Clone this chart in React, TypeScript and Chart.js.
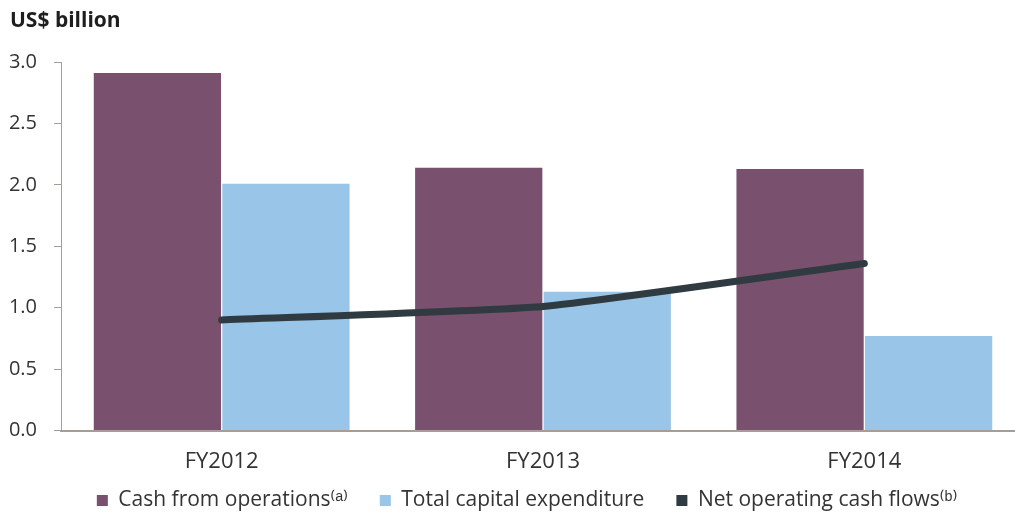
import React, { useEffect, useRef } from "react";
import { Chart, registerables } from "chart.js";

Chart.register(...registerables);

const categories = ["FY2012", "FY2013", "FY2014"];
const cashFromOperations = [2.91, 2.14, 2.13];
const totalCapex = [2.01, 1.13, 0.77];
const netOperatingCashFlows = [0.9, 1.01, 1.36];
const yTicks = [0, 0.5, 1.0, 1.5, 2.0, 2.5, 3.0];

const seriesNames = [
  "Cash from operations\u207D\u1D43\u207E",
  "Total capital expenditure",
  "Net operating cash flows\u207D\u1D47\u207E",
];

const PURPLE = "#79506d";
const BLUE = "#99c6e8";
const DARK = "#2f3b41";
const AXIS = "#a69d99";
const TEXT = "#333333";
const FONT = "'Open Sans', sans-serif";
const LEGEND_SHIFT_Y = -27;
const LEGEND_SHIFT_X = -16;

const legendShiftPlugin = {
  id: "legendShift",
  afterInit(chart: any) {
    const lg = chart.legend;
    if (!lg) return;
    const orig = lg.draw.bind(lg);
    lg.draw = (area: any) => {
      const t = lg.top;
      const l = lg.left;
      const r = lg.right;
      lg.top = t + LEGEND_SHIFT_Y;
      lg.left = l + LEGEND_SHIFT_X;
      lg.right = r + LEGEND_SHIFT_X;
      orig(area);
      lg.top = t;
      lg.left = l;
      lg.right = r;
    };
  },
};

export default function App() {
  const ref = useRef<HTMLCanvasElement | null>(null);

  useEffect(() => {
    if (!ref.current) return;
    const chart = new Chart(ref.current, {
      type: "bar",
      data: {
        labels: categories,
        datasets: [
          {
            type: "bar",
            label: seriesNames[0],
            data: cashFromOperations,
            backgroundColor: PURPLE,
            categoryPercentage: 0.8,
            barPercentage: 0.99,
            order: 1,
          },
          {
            type: "bar",
            label: seriesNames[1],
            data: totalCapex,
            backgroundColor: BLUE,
            categoryPercentage: 0.8,
            barPercentage: 0.99,
            order: 1,
          },
          {
            type: "line",
            label: seriesNames[2],
            data: netOperatingCashFlows,
            borderColor: DARK,
            backgroundColor: DARK,
            borderWidth: 7,
            borderCapStyle: "round",
            borderJoinStyle: "round",
            pointRadius: 0,
            tension: 0.15,
            order: 0,
          } as any,
        ],
      },
      plugins: [legendShiftPlugin],
      options: {
        animation: false,
        responsive: false,
        layout: { padding: { left: 10, right: 0, top: 0, bottom: 0 } },
        scales: {
          x: {
            grid: { display: false },
            border: { display: true, color: AXIS, width: 2 },
            ticks: { color: TEXT, font: { family: FONT, size: 22 }, padding: 10 },
          },
          y: {
            min: 0,
            max: 3,
            afterBuildTicks: (s: any) => {
              s.ticks = yTicks.map((v) => ({ value: v }));
            },
            grid: {
              display: true,
              drawOnChartArea: false,
              drawTicks: true,
              tickLength: 7,
              color: AXIS,
            },
            border: { display: true, color: AXIS, width: 1 },
            ticks: {
              color: TEXT,
              font: { family: FONT, size: 20 },
              padding: 17,
              callback: (v: any) => Number(v).toFixed(1),
            },
            afterFit: (s: any) => {
              s.width = 51;
            },
          },
        },
        plugins: {
          title: {
            display: true,
            text: "US$ billion",
            align: "start",
            color: "#1e1e1e",
            font: { family: FONT, size: 21, weight: "bold" },
            padding: { top: 8, bottom: 28.8 },
          },
          legend: {
            position: "bottom",
            fullSize: false,
            labels: {
              color: TEXT,
              font: { family: FONT, size: 21 },
              boxWidth: 11,
              boxHeight: 11,
              padding: 32,
              sort: (a: any, b: any) => a.datasetIndex - b.datasetIndex,
              generateLabels: (c: any) =>
                c.data.datasets.map((d: any, i: number) => ({
                  text: d.label,
                  fillStyle: i === 2 ? DARK : d.backgroundColor,
                  strokeStyle: "rgba(0,0,0,0)",
                  lineWidth: 0,
                  hidden: false,
                  datasetIndex: i,
                  fontColor: TEXT,
                })),
            },
          },
          tooltip: { enabled: false },
        },
      },
    });
    return () => chart.destroy();
  }, []);

  return (
    <div
      style={{
        position: "fixed",
        left: 0,
        top: 0,
        width: 1015,
        height: 513,
        overflow: "hidden",
        background: "#ffffff",
      }}
    >
      <canvas ref={ref} width={1025} height={548} style={{ display: "block" }} />
    </div>
  );
}
